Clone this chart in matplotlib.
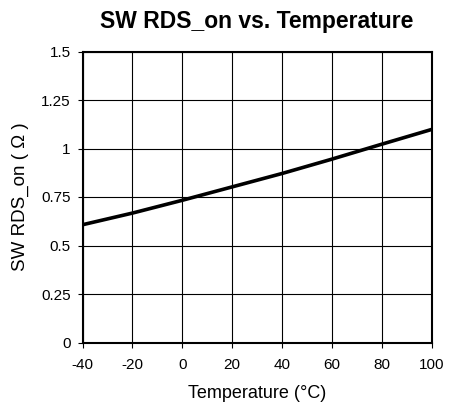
import matplotlib
matplotlib.use("Agg")
import matplotlib.pyplot as plt

plt.rcParams['font.family'] = ['Liberation Sans', 'DejaVu Sans']
plt.rcParams['axes.unicode_minus'] = False

# Werte
temperatur = [-40, -20, 0, 20, 40, 60, 80, 100]
rds_on = [0.607, 0.667, 0.733, 0.802, 0.871, 0.945, 1.022, 1.098]

x_ticks = [-40, -20, 0, 20, 40, 60, 80, 100]
y_ticks = [0, 0.25, 0.5, 0.75, 1, 1.25, 1.5]
y_labels = ['0', '0.25', '0.5', '0.75', '1', '1.25', '1.5']

fig = plt.figure(figsize=(4.5, 4.05), dpi=100)
ax = fig.add_axes([82.5 / 450, 1 - 342.5 / 405, 349 / 450, 291 / 405])

ax.plot(temperatur, rds_on, color='black', linewidth=2.6)

ax.set_xlim(-40, 100)
ax.set_ylim(0, 1.5)
ax.set_xticks(x_ticks)
ax.set_yticks(y_ticks)
ax.set_yticklabels(y_labels)
ax.tick_params(axis='both', labelsize=11, length=3.5, width=0.8, direction='out')
ax.tick_params(axis='x', pad=8)
ax.tick_params(axis='y', pad=5)
ax.grid(True, color='black', linewidth=0.8)
for s in ax.spines.values():
    s.set_linewidth(1.5)

ax.set_title('SW RDS_on vs. Temperature', fontsize=16.5, fontweight='bold', pad=17)
ax.set_xlabel('Temperature (°C)', fontsize=13, labelpad=9)
ax.set_ylabel('SW RDS_on ( Ω )', fontsize=13.5, labelpad=9)

fig.savefig('out.png', dpi=100)
